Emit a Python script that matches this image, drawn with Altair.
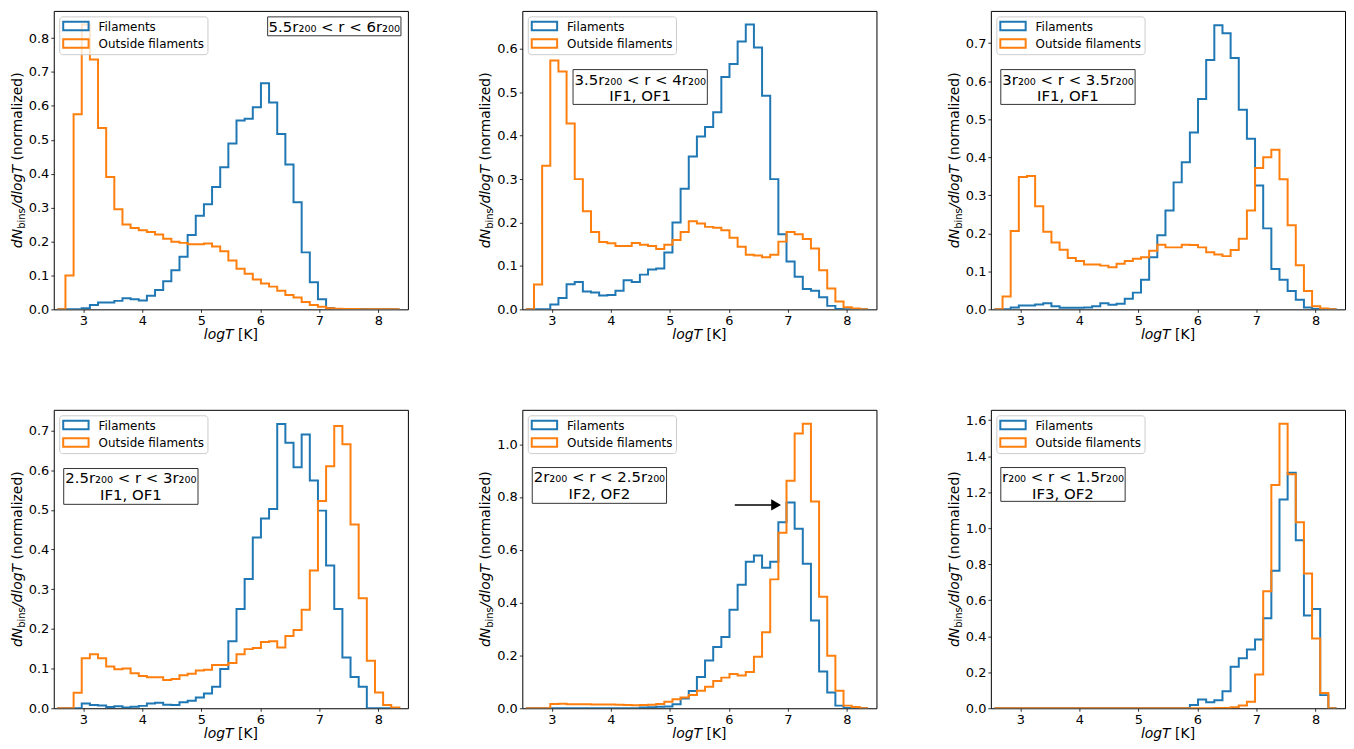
import altair as alt
import numpy as np
import pandas as pd

# ---------------- data ----------------
BIN_START = 2.56
BIN_WIDTH = 0.138
N_BINS = 42

SERIES = ["Filaments", "Outside filaments"]
COLORS = ["#1f77b4", "#ff7f0e"]
XTICKS = [3, 4, 5, 6, 7, 8]

p1_fil = [0, 0, 0, 0.003, 0.013, 0.02, 0.02, 0.025, 0.033, 0.03,
          0.026, 0.04, 0.057, 0.083, 0.115, 0.155, 0.219, 0.276, 0.31, 0.361,
          0.419, 0.489, 0.557, 0.562, 0.596, 0.667, 0.61, 0.517, 0.427, 0.316,
          0.168, 0.08, 0.03, 0.004, 0.001, 0.001, 0, 0.001, 0, 0, 0, 0]
p1_out = [0, 0.10, 0.575, 0.84, 0.737, 0.535, 0.39, 0.295, 0.25, 0.24,
          0.233, 0.228, 0.221, 0.208, 0.199, 0.196, 0.192, 0.192, 0.194, 0.185,
          0.171, 0.144, 0.12, 0.105, 0.088, 0.076, 0.067, 0.055, 0.042, 0.035,
          0.022, 0.013, 0.008, 0.003, 0.002, 0.001, 0.001, 0, 0, 0, 0, 0]

p2_fil = [0, 0, 0, 0.011, 0.026, 0.058, 0.063, 0.041, 0.039, 0.032,
          0.033, 0.043, 0.067, 0.063, 0.08, 0.092, 0.094, 0.131, 0.2, 0.278,
          0.352, 0.398, 0.42, 0.454, 0.535, 0.565, 0.617, 0.656, 0.603, 0.492,
          0.30, 0.173, 0.11, 0.075, 0.047, 0.043, 0.028, 0.008, 0.001, 0, 0, 0]
p2_out = [0, 0.057, 0.331, 0.573, 0.548, 0.428, 0.30, 0.226, 0.178, 0.155,
          0.152, 0.146, 0.146, 0.153, 0.149, 0.146, 0.139, 0.149, 0.16, 0.178,
          0.203, 0.198, 0.19, 0.188, 0.182, 0.165, 0.144, 0.126, 0.124, 0.12,
          0.126, 0.156, 0.178, 0.173, 0.162, 0.14, 0.09, 0.048, 0.018, 0.005, 0.002, 0]

p3_fil = [0, 0, 0.005, 0.01, 0.01, 0.013, 0.016, 0.008, 0.004, 0.004,
          0.004, 0.005, 0.008, 0.016, 0.012, 0.015, 0.028, 0.044, 0.078, 0.137,
          0.195, 0.26, 0.334, 0.387, 0.465, 0.553, 0.656, 0.747, 0.726, 0.661,
          0.525, 0.449, 0.326, 0.213, 0.106, 0.078, 0.048, 0.025, 0.005, 0.001, 0, 0]
p3_out = [0, 0.034, 0.206, 0.348, 0.351, 0.271, 0.204, 0.176, 0.157, 0.135,
          0.127, 0.118, 0.118, 0.115, 0.111, 0.12, 0.127, 0.133, 0.137, 0.154,
          0.17, 0.163, 0.163, 0.17, 0.169, 0.163, 0.15, 0.144, 0.14, 0.156,
          0.186, 0.26, 0.372, 0.40, 0.42, 0.342, 0.221, 0.116, 0.048, 0.008, 0.002, 0]

p4_fil = [0, 0, 0, 0.012, 0.008, 0.007, 0.003, 0.005, 0.002, 0.004,
          0.006, 0.012, 0.014, 0.009, 0.008, 0.015, 0.019, 0.027, 0.037, 0.054,
          0.099, 0.169, 0.25, 0.326, 0.43, 0.478, 0.502, 0.716, 0.669, 0.607,
          0.69, 0.574, 0.498, 0.36, 0.25, 0.128, 0.079, 0.054, 0, 0, 0, 0]
p4_out = [0, 0, 0.039, 0.126, 0.136, 0.126, 0.105, 0.098, 0.10, 0.088,
          0.081, 0.078, 0.078, 0.071, 0.074, 0.083, 0.087, 0.095, 0.097, 0.109,
          0.109, 0.114, 0.136, 0.149, 0.152, 0.167, 0.169, 0.153, 0.182, 0.197,
          0.248, 0.347, 0.522, 0.61, 0.711, 0.665, 0.463, 0.277, 0.12, 0.04, 0.008, 0.002]

p5_fil = [0, 0, 0, 0, 0, 0, 0, 0, 0, 0,
          0, 0, 0, 0, 0.003, 0.004, 0.006, 0.007, 0.015, 0.037,
          0.065, 0.118, 0.181, 0.232, 0.27, 0.373, 0.468, 0.555, 0.578, 0.532,
          0.555, 0.704, 0.779, 0.68, 0.547, 0.332, 0.139, 0.06, 0.01, 0.001, 0, 0]
p5_out = [0, 0, 0, 0.016, 0.017, 0.015, 0.015, 0.015, 0.014, 0.014,
          0.014, 0.013, 0.012, 0.011, 0.012, 0.013, 0.016, 0.025, 0.034, 0.041,
          0.05, 0.066, 0.081, 0.103, 0.116, 0.13, 0.124, 0.137, 0.195, 0.288,
          0.488, 0.665, 0.861, 1.04, 1.077, 0.783, 0.422, 0.199, 0.066, 0.01, 0.005, 0]

p6_fil = [0, 0, 0, 0, 0, 0, 0, 0, 0, 0,
          0, 0, 0, 0, 0, 0, 0, 0, 0, 0,
          0, 0, 0, 0, 0.018, 0.049, 0.033, 0.045, 0.095, 0.231,
          0.278, 0.327, 0.382, 0.50, 0.764, 1.16, 1.309, 0.933, 0.515, 0.551, 0.073, 0]
p6_out = [0, 0, 0, 0, 0, 0, 0, 0, 0, 0,
          0, 0, 0, 0, 0, 0, 0, 0, 0, 0,
          0, 0, 0, 0, 0, 0, 0, 0.002, 0.002, 0.005,
          0.015, 0.036, 0.187, 0.65, 1.24, 1.58, 1.30, 1.033, 0.749, 0.387, 0.085, 0]

y_max = [0.88, 0.6875, 0.785, 0.752, 1.13, 1.658]
y_ticks = [
    [0, 0.1, 0.2, 0.3, 0.4, 0.5, 0.6, 0.7, 0.8],
    [0, 0.1, 0.2, 0.3, 0.4, 0.5, 0.6],
    [0, 0.1, 0.2, 0.3, 0.4, 0.5, 0.6, 0.7],
    [0, 0.1, 0.2, 0.3, 0.4, 0.5, 0.6, 0.7],
    [0, 0.2, 0.4, 0.6, 0.8, 1.0],
    [0, 0.2, 0.4, 0.6, 0.8, 1.0, 1.2, 1.4, 1.6],
]
range_labels = [
    "5.5r₂₀₀ < r < 6r₂₀₀",
    "3.5r₂₀₀ < r < 4r₂₀₀",
    "3r₂₀₀ < r < 3.5r₂₀₀",
    "2.5r₂₀₀ < r < 3r₂₀₀",
    "2r₂₀₀ < r < 2.5r₂₀₀",
    "r₂₀₀ < r < 1.5r₂₀₀",
]
model_labels = [None, "IF1, OF1", "IF1, OF1", "IF1, OF1", "IF2, OF2", "IF3, OF2"]

# arrow annotation in panel 5 (data coordinates)
arrow_x_start = [6.10]
arrow_x_head = [6.80]
arrow_y = [0.77]

# ---------------- layout ----------------
W, H = 356, 300
FONT = "DejaVu Sans"
ONE = pd.DataFrame({"k": [0]})

# annotation boxes (pixel layout in plot area): x0, y0, x1, y1
boxes = [
    (215, 6, 349, 25),
    (51, 59, 186, 94),
    (10, 59, 145, 94),
    (10, 59, 145, 95),
    (10, 58, 145, 94),
    (10, 58, 135, 92),
]

edges = BIN_START + BIN_WIDTH * np.arange(N_BINS + 1)


def xenc(field):
    return alt.X(field, type="quantitative",
                 scale=alt.Scale(domain=[2.5, 8.5], nice=False, zero=False),
                 axis=alt.Axis(values=XTICKS, title=None, format="d"))


def yenc(field, ymax, ticks):
    return alt.Y(field, type="quantitative",
                 scale=alt.Scale(domain=[0, ymax], nice=False, zero=True),
                 axis=alt.Axis(values=ticks, title=None, format=".1f"))


def txt(text, x, y, size=14, align="center", baseline="middle", style="normal", angle=0):
    kw = dict(text=text, fontSize=size, align=align, baseline=baseline,
              fontStyle=style, font=FONT, color="black")
    if angle:
        kw["angle"] = angle
    return alt.Chart(ONE).mark_text(**kw).encode(x=alt.value(x), y=alt.value(y))


def box(x0, y0, x1, y1, fill="white", stroke="#333333", opacity=1.0, radius=0, sw=1):
    return alt.Chart(ONE).mark_rect(fill=fill, stroke=stroke, strokeWidth=sw,
                                    fillOpacity=opacity, cornerRadius=radius).encode(
        x=alt.value(x0), x2=alt.value(x1), y=alt.value(y0), y2=alt.value(y1))


def panel(i, fil, out):
    rows = []
    for name, vals in ((SERIES[0], fil), (SERIES[1], out)):
        for j in range(N_BINS):
            rows.append({"logT": edges[j], "v": vals[j], "series": name})
        rows.append({"logT": edges[N_BINS], "v": 0.0, "series": name})
    df = pd.DataFrame(rows)

    hist = alt.Chart(df).mark_line(interpolate="step-after", strokeWidth=2, clip=True).encode(
        x=xenc("logT"),
        y=yenc("v", y_max[i], y_ticks[i]),
        color=alt.Color("series:N", scale=alt.Scale(domain=SERIES, range=COLORS), legend=None),
    )
    layers = [hist]

    if i == 4:
        adf = pd.DataFrame({"x0": arrow_x_start, "xh": arrow_x_head, "y": arrow_y})
        layers.append(alt.Chart(adf).mark_rule(color="black", strokeWidth=1.5).encode(
            x=xenc("x0"), x2="xh:Q", y=yenc("y", y_max[i], y_ticks[i])))
        layers.append(alt.Chart(adf).mark_point(shape="triangle-right", filled=True, color="black",
                                                opacity=1, size=130).encode(
            x=xenc("xh"), y=yenc("y", y_max[i], y_ticks[i])))

    # legend (matplotlib style)
    layers.append(box(6, 6, 155, 44, fill="white", stroke="#cccccc", opacity=0.8, radius=3))
    layers.append(box(9.5, 11, 35, 19.5, fill="white", stroke=COLORS[0], opacity=0, sw=2))
    layers.append(box(9.5, 28.5, 35, 37, fill="white", stroke=COLORS[1], opacity=0, sw=2))
    layers.append(txt(SERIES[0], 45, 16, size=12, align="left"))
    layers.append(txt(SERIES[1], 45, 33.5, size=12, align="left"))

    # range annotation box
    x0, y0, x1, y1 = boxes[i]
    layers.append(box(x0, y0, x1, y1))
    cx = (x0 + x1) / 2
    if model_labels[i] is None:
        layers.append(txt(range_labels[i], cx, (y0 + y1) / 2 + 0.5, size=15))
    else:
        layers.append(txt(range_labels[i], cx, y0 + 10, size=15))
        layers.append(txt(model_labels[i], cx, y0 + 26.5, size=15))

    # y-axis title: dN_bins/dlogT (normalized)
    y0t = H / 2 + 88.5
    bx = -32
    layers.append(txt("dN", bx, y0t, size=14, align="left", baseline="alphabetic", style="italic", angle=270))
    layers.append(txt("bins", bx + 3, y0t - 19.4, size=10, align="left", baseline="alphabetic", angle=270))
    layers.append(txt("/dlogT", bx, y0t - 40.1, size=14, align="left", baseline="alphabetic", style="italic", angle=270))
    layers.append(txt("(normalized)", bx, y0t - 88.1, size=14, align="left", baseline="alphabetic", angle=270))

    # x-axis title: logT [K]
    cxt = W / 2 + 2.7
    layers.append(txt("logT", cxt, H + 26, size=14, align="right", style="italic"))
    layers.append(txt("[K]", cxt + 4.5, H + 26, size=14, align="left"))

    return alt.layer(*layers).properties(width=W, height=H)


fils = [p1_fil, p2_fil, p3_fil, p4_fil, p5_fil, p6_fil]
outs = [p1_out, p2_out, p3_out, p4_out, p5_out, p6_out]
charts = [panel(i, fils[i], outs[i]) for i in range(6)]

row1 = alt.hconcat(*charts[:3], spacing=70)
row2 = alt.hconcat(*charts[3:], spacing=70)

chart = alt.vconcat(row1, row2, spacing=66).properties(
    padding={"left": 2, "top": 0, "right": 0, "bottom": 0}
).configure(font=FONT).configure_view(
    stroke="black", strokeWidth=1
).configure_axis(
    grid=False, domain=False, labelFont=FONT, labelFontSize=13, labelColor="black",
    tickColor="black", tickSize=3, tickWidth=0.8, labelPadding=2,
)

chart.save("out.html", embed_options={"renderer": "svg", "actions": False})
